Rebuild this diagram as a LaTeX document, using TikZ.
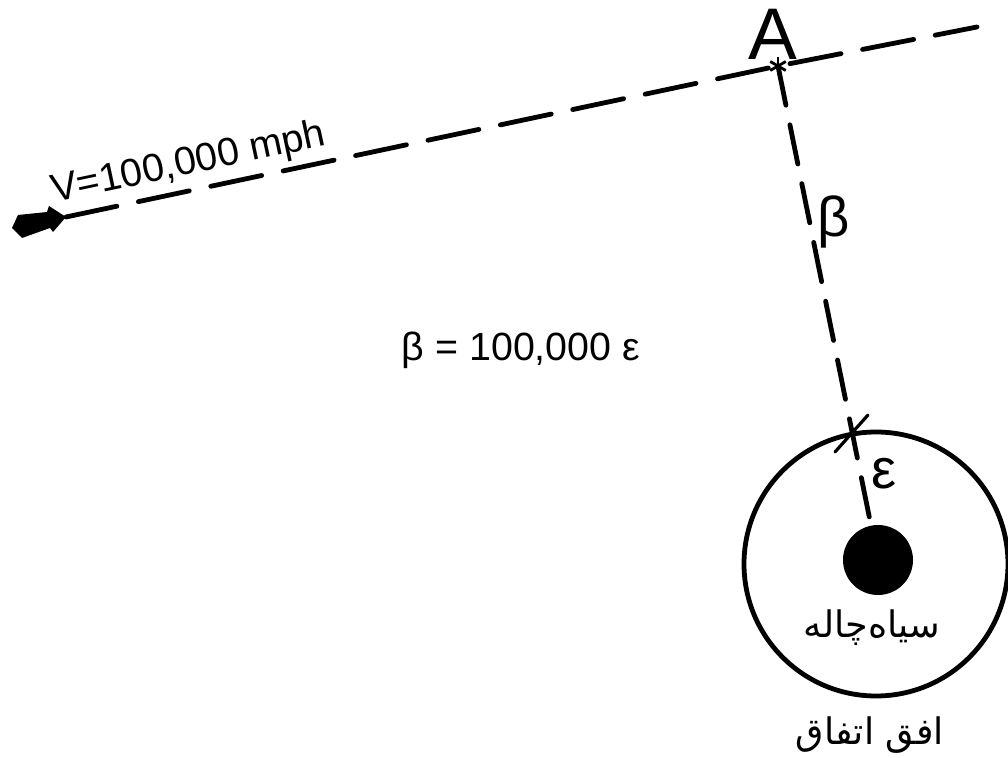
\documentclass[tikz,border=0pt]{standalone}
\usepackage{fontspec}
\setmainfont{Liberation Sans}
\newfontfamily\arabicfont[Script=Arabic]{DejaVu Sans}
\TeXXeTstate=1
\usetikzlibrary{calc}
\tikzset{
  pen/.style      = {line width=1.2mm, line cap=round},
  dashline/.style = {pen, dash pattern=on 13mm off 5.5mm},
  vdash/.style    = {pen, dash pattern=on 10mm off 5mm},
  horizon/.style  = {circle, draw, line width=1.2mm, minimum size=66mm, inner sep=0pt},
  hole/.style     = {circle, fill=black, minimum size=17.5mm, inner sep=0pt},
  lbl/.style      = {font=\fontsize{28}{32}\selectfont, inner sep=1pt},
  fa/.style       = {font=\arabicfont\fontsize{26}{30}\selectfont, inner sep=1pt},
}

\begin{document}
\begin{tikzpicture}[x=0.25mm,y=-0.25mm]
  \useasboundingbox (0,0) rectangle (1008,758);
  \coordinate (ship) at (66,217);
  \coordinate (A) at (778,66);
  \coordinate (far) at (977,27);
  \node[horizon] (hor) at (876,564) {};
  \node[hole] (bh) at (878,560) {};
  \fill (ship) -- (53,232) -- (50,228) -- (22,238) -- (12,228) -- (18,215)
    -- (47,212) -- (49,206) -- cycle;
  \draw[dashline] (ship) -- node[lbl, pos=0.18, sloped, above, inner sep=4pt] {V=100,000 mph} (A) -- (far);
  \draw[vdash] (A) -- (bh);
  \foreach \ang in {90,30,150}
    \draw[line width=0.7mm] (A) ++(\ang:9) -- ++(\ang+180:18);
  \node[lbl, font=\fontsize{52}{56}\selectfont] (Alab) at (773,34) {A};
  \coordinate (cut) at (852,433);
  \draw[pen, line width=0.8mm] (cut) ++(-17,19) -- ++(33,-37);
  \node[lbl, font=\fontsize{40}{44}\selectfont] (beta) at (834,222) {β};
  \node[lbl, font=\fontsize{40}{44}\selectfont] (eps) at (884,474) {ε};
  \node[lbl] (rel) at (521,350) {β = 100,000 ε};
  \node[fa] (bhname) at (872,628) {\beginR سیاه‌چاله\endR};
  \node[fa] (horname) at (870,735) {\beginR افق اتفاق\endR};
\end{tikzpicture}
\end{document}
